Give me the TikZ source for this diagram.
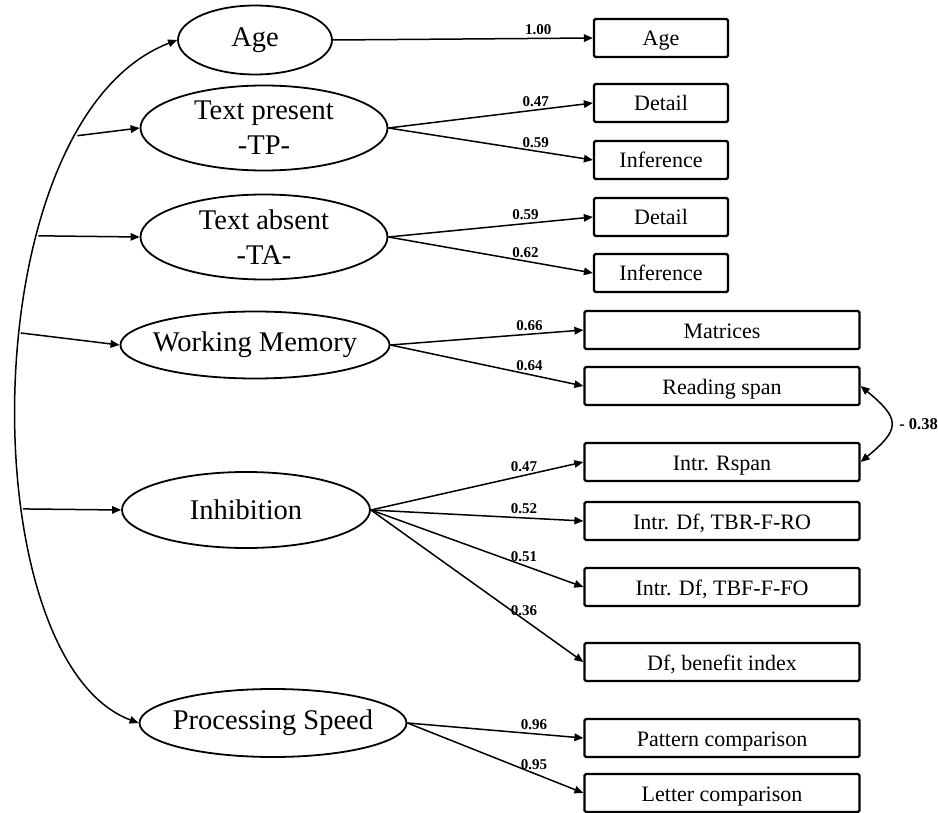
\documentclass[tikz,border=0pt]{standalone}
\usepackage{fontspec}
\setmainfont{Liberation Serif}
\usepackage{tikz}
\usetikzlibrary{positioning, arrows.meta, shapes}
\tikzset{>={Triangle[length=9pt, width=7.5pt]}}

\begin{document}
\begin{tikzpicture}
    [x=1pt, y=-1pt, line width=1.5pt,
     latent/.style={draw, ellipse, line width=1.8pt, inner xsep=-7pt, inner ysep=-2pt, align=center, font=\fontsize{28.5}{35}\selectfont},
     obsbox/.style={draw, line width=2.2pt, rounded corners=1.5pt, minimum height=38pt, inner sep=0pt, text height=19pt, text depth=3pt, font=\fontsize{22}{24}\selectfont},
     shortbox/.style={obsbox, minimum width=134pt},
     longbox/.style={obsbox, minimum width=275pt},
     wt/.style={above, pos=0.72, inner sep=3pt, font=\fontsize{15}{15}\selectfont\bfseries}]
    \useasboundingbox (0,0) rectangle (938,813);

    \node[latent, minimum width=154pt, minimum height=69pt] (age) at (255,40) {Age};
    \node[latent, minimum width=247pt, minimum height=85pt] (tp) at (264,128) {Text present\\-TP-};
    \node[latent, minimum width=247pt, minimum height=85pt] (ta) at (264,237) {Text absent\\-TA-};
    \node[latent, minimum width=266pt, minimum height=67pt] (wm) at (255,345) {Working Memory};
    \node[latent, minimum width=248pt, minimum height=76pt] (inh) at (246,510) {Inhibition};
    \node[latent, minimum width=267pt, minimum height=68pt] (ps) at (273,723) {Processing Speed};

    \node[shortbox] (ageI) at (661,38) {Age};
    \node[shortbox, below=24.8pt of ageI] (tpD) {Detail};
    \node[shortbox, below=16.8pt of tpD] (tpI) {Inference};
    \node[shortbox, below=16.8pt of tpI] (taD) {Detail};
    \node[shortbox, below=15.8pt of taD] (taI) {Inference};

    \node[longbox] (mat) at (722,330) {Matrices};
    \node[longbox, below=15.8pt of mat] (rs) {Reading span};
    \node[longbox, below=35.8pt of rs] (irs) {Intr. Rspan};
    \node[longbox, below=18.8pt of irs] (tbr) {Intr. Df, TBR-F-RO};
    \node[longbox, below=25.8pt of tbr] (tbf) {Intr. Df, TBF-F-FO};
    \node[longbox, below=34.8pt of tbf] (dfb) {Df, benefit index};
    \node[longbox, below=35.8pt of dfb] (pat) {Pattern comparison};
    \node[longbox, below=14.8pt of pat] (let) {Letter comparison};

    \draw [<->] (age.west) .. controls (-30,120) and (-30,660) .. (ps.west)
        coordinate[pos=0.2] (xTP) coordinate[pos=0.33] (xTA)
        coordinate[pos=0.44] (xWM) coordinate[pos=0.635] (xInh);
    \draw [->] (xTP) -- (tp.west);
    \draw [->] (xTA) -- (ta.west);
    \draw [->] (xWM) -- (wm.west);
    \draw [->] (xInh) -- (inh.west);

    \draw [->] (age.east) -- node[wt, pos=0.79] {1.00} (ageI.west);
    \draw [->] (tp.east) -- node[wt] {0.47} (tpD.west);
    \draw [->] (tp.east) -- node[wt] {0.59} (tpI.west);
    \draw [->] (ta.east) -- node[wt, pos=0.67] {0.59} (taD.west);
    \draw [->] (ta.east) -- node[wt, pos=0.67] {0.62} (taI.west);
    \draw [->] (wm.east) -- node[wt] {0.66} (mat.west);
    \draw [->] (wm.east) -- node[wt] {0.64} (rs.west);
    \draw [->] (inh.east) -- node[wt] {0.47} (irs.west);
    \draw [->] (inh.east) -- node[wt] {0.52} (tbr.west);
    \draw [->] (inh.east) -- node[wt] {0.51} (tbf.west);
    \draw [->] (inh.east) -- node[wt] {0.36} (dfb.west);
    \draw [->] (ps.east) -- node[wt] {0.96} (pat.west);
    \draw [->] (ps.east) -- node[wt] {0.95} (let.west);

    \draw [<->] (rs.east) .. controls +(40,33) and +(40,-33) .. node[wt, pos=0.5, right, inner sep=8pt, font=\fontsize{16.5}{16}\selectfont\bfseries] {- 0.38} (irs.east);
  \end{tikzpicture}
\end{document}
